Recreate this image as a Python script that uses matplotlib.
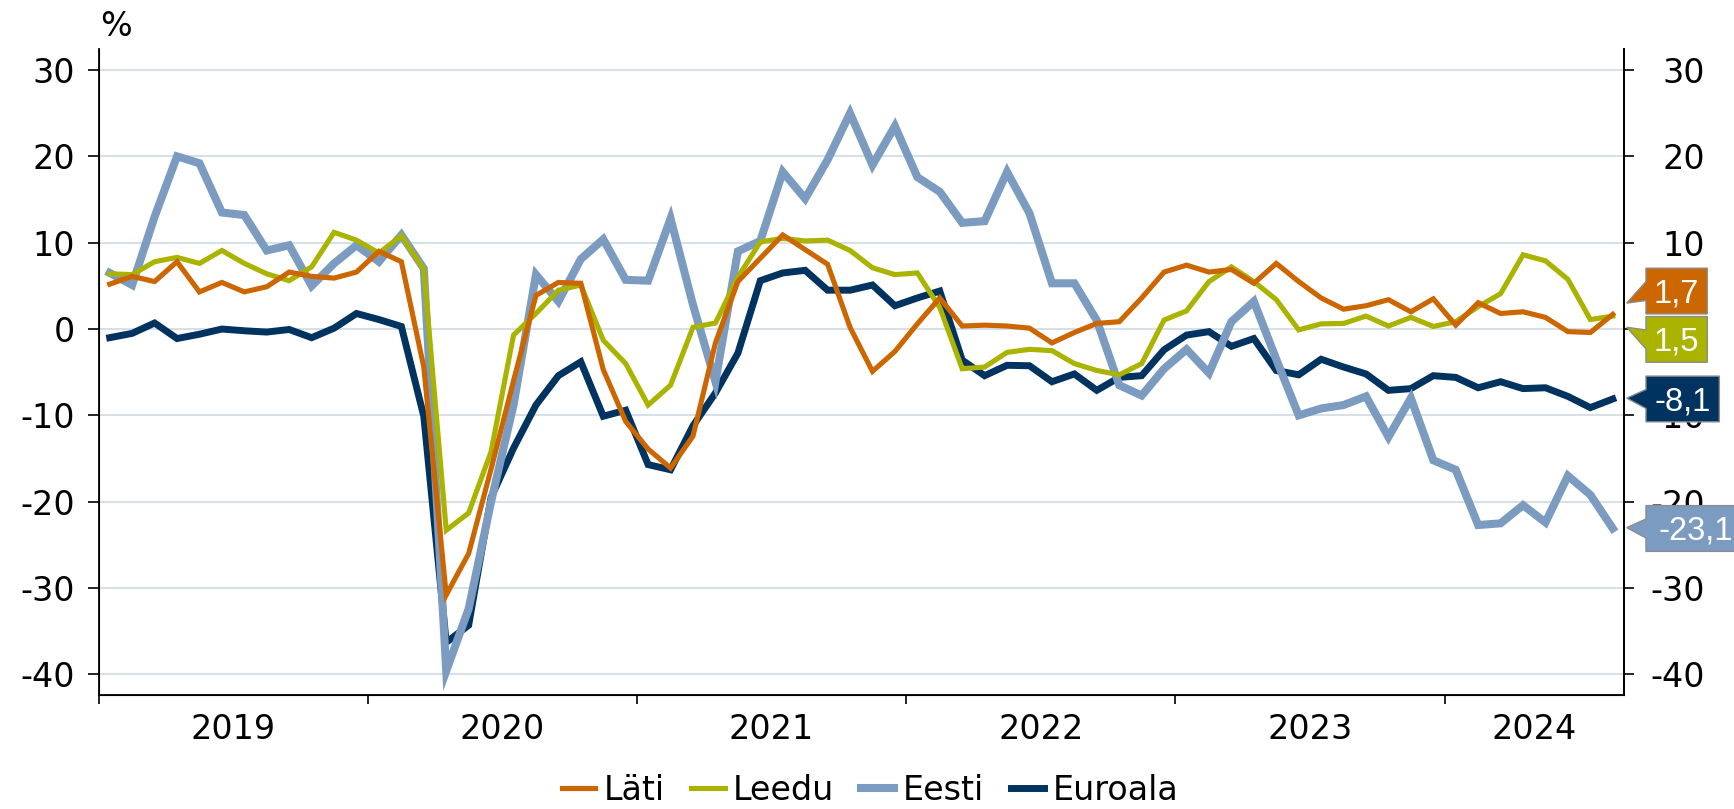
import matplotlib
matplotlib.use('Agg')
import matplotlib.pyplot as plt
import numpy as np
from matplotlib.patches import Polygon
from matplotlib.transforms import blended_transform_factory
from matplotlib.ticker import FixedLocator, FuncFormatter, NullFormatter

#%% data: monthly, jan 2019 .. aug 2024
years = ['2019', '2020', '2021', '2022', '2023', '2024']
n_months = 68

lati = [5.2, 6.1, 5.5, 7.8, 4.3, 5.4, 4.3, 4.9, 6.6, 6.1, 5.9, 6.6,
        9.0, 7.8, -4.4, -30.8, -26.0, -16.2, -6.0, 3.9, 5.4, 5.3, -4.7, -10.7,
        -13.9, -16.1, -12.4, -1.6, 5.5, 8.2, 10.9, 9.2, 7.5, 0.2, -4.9, -2.6,
        0.6, 3.6, 0.35, 0.45, 0.35, 0.1, -1.6, -0.4, 0.65, 0.85, 3.6, 6.6,
        7.4, 6.6, 6.9, 5.3, 7.6, 5.5, 3.6, 2.3, 2.7, 3.4, 2.0, 3.5,
        0.45, 3.05, 1.8, 2.0, 1.35, -0.3, -0.4, 1.7]
leedu = [6.4, 6.3, 7.8, 8.3, 7.6, 9.1, 7.6, 6.4, 5.6, 7.2, 11.2, 10.3,
         8.8, 10.8, 6.9, -23.3, -21.3, -14.2, -0.7, 1.8, 4.5, 5.1, -1.3, -4.0,
         -8.8, -6.5, 0.2, 0.7, 6.0, 10.1, 10.5, 10.2, 10.3, 9.1, 7.1, 6.3,
         6.5, 2.5, -4.6, -4.4, -2.7, -2.35, -2.5, -4.0, -4.8, -5.3, -4.0, 1.05,
         2.1, 5.5, 7.2, 5.5, 3.4, -0.1, 0.6, 0.65, 1.5, 0.35, 1.35, 0.3,
         0.85, 2.6, 4.1, 8.6, 7.9, 5.75, 1.1, 1.5]
eesti = [6.5, 5.1, 13.0, 20.0, 19.2, 13.5, 13.2, 9.1, 9.7, 5.0, 7.6, 9.7,
         7.8, 10.9, 7.0, -39.6, -32.4, -20.0, -8.8, 6.3, 3.2, 8.1, 10.4, 5.7,
         5.6, 12.8, 2.8, -6.1, 9.0, 10.2, 18.2, 15.1, 19.6, 25.0, 19.0, 23.5,
         17.6, 15.9, 12.3, 12.5, 18.2, 13.4, 5.3, 5.3, 1.0, -6.5, -7.7, -4.6,
         -2.35, -5.1, 0.85, 3.2, -3.5, -10.0, -9.2, -8.8, -7.8, -12.5, -8.0, -15.2,
         -16.3, -22.7, -22.5, -20.4, -22.4, -17.0, -19.2, -23.1]
euroala = [-1.0, -0.5, 0.7, -1.1, -0.6, 0.0, -0.2, -0.35, -0.05, -1.0, 0.1, 1.8,
           1.1, 0.3, -10.1, -36.3, -34.3, -19.5, -13.8, -8.8, -5.4, -3.8, -10.1, -9.4,
           -15.7, -16.3, -11.2, -7.4, -2.8, 5.6, 6.5, 6.8, 4.5, 4.5, 5.1, 2.7,
           3.6, 4.4, -3.6, -5.4, -4.2, -4.25, -6.1, -5.2, -7.1, -5.6, -5.4, -2.4,
           -0.7, -0.3, -2.0, -1.1, -4.8, -5.3, -3.5, -4.4, -5.2, -7.1, -6.9, -5.4,
           -5.6, -6.8, -6.1, -6.9, -6.8, -7.8, -9.1, -8.1]

names = ['Läti', 'Leedu', 'Eesti', 'Euroala']
values = [lati, leedu, eesti, euroala]
colors = ['#CC6600', '#AAB300', '#7B9CC0', '#00335F']
widths = [3.7, 3.7, 5.8, 5.0]

# end-value callouts: (box shift, tip shift, box right edge in axes fraction)
callout = {
    'Läti': (2.7, 1.3, 1.0546),
    'Leedu': (-2.7, -1.3, 1.0546),
    'Eesti': (0.0, 0.1, 1.085),
    'Euroala': (0.0, 0.1, 1.0625),
}

#%%
plt.rcParams['font.family'] = 'DejaVu Sans'
fs = 24

fig = plt.figure(figsize=(17.34, 8.09), dpi=100)
ax = fig.add_axes([98.5 / 1734, 1 - 694.7 / 809, 1525.5 / 1734, 645.4 / 809])

x = np.arange(n_months) + 0.5
lines = {}
for name, val, col, lw in reversed(list(zip(names, values, colors, widths))):
    l, = ax.plot(x, val, color=col, lw=lw, solid_joinstyle='miter', label=name, zorder=3)
    lines[name] = l

ylim = (-42.35, 32.4)
yt = np.arange(-40, 31, 10)
ax.set_xlim(0, n_months)
ax.set_ylim(*ylim)
ax.set_yticks(yt)
ax.yaxis.set_major_formatter(FuncFormatter(lambda v, p: '%d' % v))
ax.grid(axis='y', color='#D3DDE6', lw=1.3)
ax.set_axisbelow(True)

# years: ticks at boundaries, labels in the middle of each year
bounds = np.arange(0, n_months, 12)
centers = [(b + min(b + 12, n_months)) / 2 for b in bounds]
ax.xaxis.set_major_locator(FixedLocator(bounds))
ax.xaxis.set_major_formatter(NullFormatter())
ax.xaxis.set_minor_locator(FixedLocator(centers))
ax.set_xticklabels(years, minor=True)
ax.tick_params(axis='x', which='major', length=6.5, width=1.2, direction='out')
ax.tick_params(axis='x', which='minor', length=0, pad=13, labelsize=fs)
ax.tick_params(axis='y', length=8, width=1.2, direction='out', pad=9, labelsize=fs)

for s in ['left', 'right', 'bottom']:
    ax.spines[s].set_linewidth(1.3)
ax.spines['top'].set_visible(False)

ax2 = ax.twinx()
ax2.set_ylim(*ylim)
ax2.set_yticks(yt)
ax2.yaxis.set_major_formatter(FuncFormatter(lambda v, p: '%d' % v))
ax2.tick_params(axis='y', length=7.5, width=1.2, direction='out', pad=51, labelsize=fs)
plt.setp(ax2.get_yticklabels(), ha='right')
ax2.spines['top'].set_visible(False)
ax2.spines['right'].set_linewidth(1.3)

# callout boxes at the right
tr = blended_transform_factory(ax2.transAxes, ax2.transData)
xl, xtip, half = 1.0144, 1.0018, 2.65
for name, val, col in zip(names, values, colors):
    shift, tshift, xr = callout[name]
    last = val[-1]
    c = last + shift
    tip = last + tshift
    poly = Polygon([(xl, c + half), (xr, c + half), (xr, c - half), (xl, c - half),
                    (xl, c - 1.1), (xtip, tip), (xl, c + 1.1)],
                   closed=True, transform=tr, facecolor=col, edgecolor='#8C8C8C',
                   lw=1.0, clip_on=False, zorder=10)
    ax2.add_patch(poly)
    ax2.text((xl + min(xr, 1.0793)) / 2, c - 1.3, ('%.1f' % last).replace('.', ','),
             transform=tr, ha='center', va='baseline', color='white', fontsize=23.5,
             family='Liberation Sans', zorder=11, clip_on=False)

fig.text(100 / 1734, 1 - 26 / 809, '%', ha='left', va='center', fontsize=fs)

fig.legend([lines[n] for n in names], names, loc='center', bbox_to_anchor=(870 / 1734, 1 - 790 / 809),
           ncol=4, frameon=False, fontsize=fs, handlelength=1.0, handletextpad=0.25,
           columnspacing=0.8, borderaxespad=0, borderpad=0)

fig.savefig('out.png', dpi=100)
